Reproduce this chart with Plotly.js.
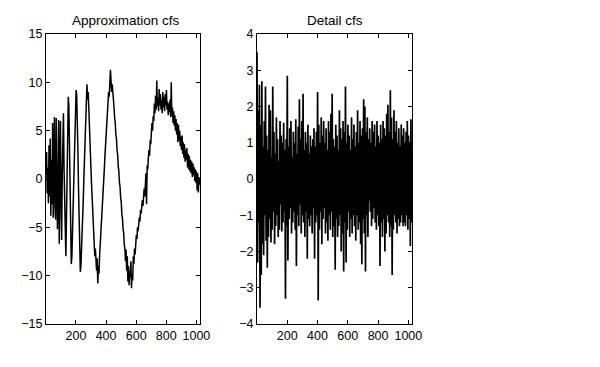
<!DOCTYPE html>
<html>
<head>
<meta charset="utf-8">
<script src="https://cdn.plot.ly/plotly-3.0.1.min.js"></script>
<style>html,body{margin:0;padding:0;background:#fff;}#plot{width:600px;height:367px;}</style>
</head>
<body>
<div id="plot"></div>
<script>
// Sample spacing (coefficient index step between stored values)
const STEP = 4;

// Approximation coefficients (one value every 4 indices)
const approxValues = [
  0.5, 2.8, -1.5, 1.2, -2.5, 3.5, -1.8, 4.2, -3.8, 2.0, -2.6, 5.8, -4.0, 3.2, 6.4, -3.0,
  -4.2, 6.3, 2.0, -5.2, -2.0, 6.1, -6.7, 1.5, 6.0, -2.5, -6.3, 0.5, 5.0, 6.8, 1.0, -4.0,
  -7.5, -8.0, -4.0, 1.5, 6.0, 8.5, 7.5, 3.0, -2.5, -6.5, -8.8, -8.0, -5.5, -2.0, 1.5, 4.5,
  7.0, 8.5, 9.2, 8.6, 6.5, 3.0, -1.0, -5.0, -8.0, -9.6, -9.0, -7.5, -6.0, -4.0, -2.0, 0.3,
  2.5, 4.8, 7.0, 8.5, 9.8, 8.2, 9.0, 7.5, 5.0, 3.5, 2.0, 0.5, -1.0, -2.5, -4.0, -5.5,
  -6.8, -8.0, -7.2, -8.8, -9.5, -8.2, -10.8, -9.0, -9.8, -8.0, -7.0, -5.8, -4.5, -3.8, -2.5, -1.0,
  0.0, 1.2, 2.5, 3.5, 4.8, 6.0, 7.0, 8.2, 9.0, 8.5, 10.0, 11.3, 10.2, 9.0, 9.8, 8.5,
  8.0, 7.4, 6.3, 5.8, 4.6, 4.2, 3.0, 2.5, 1.3, 0.8, -0.4, -0.8, -2.0, -2.4, -3.7, -4.1,
  -5.2, -5.6, -6.8, -7.2, -8.5, -7.3, -9.5, -8.0, -10.6, -9.0, -11.0, -9.5, -10.2, -8.5, -11.3, -9.8,
  -10.5, -8.0, -8.8, -7.2, -7.8, -6.8, -5.8, -6.2, -5.0, -5.4, -4.5, -4.0, -4.4, -3.2, -3.6, -2.6,
  -2.2, -2.8, -1.4, -1.0, -1.8, 0.0, 0.6, -2.6, 1.4, 1.0, 2.2, 3.0, 2.4, 4.0, 3.6, 4.8,
  5.8, 5.0, 6.5, 6.0, 7.8, 6.8, 8.6, 7.2, 10.2, 7.5, 8.4, 7.0, 9.3, 7.6, 8.8, 7.2,
  8.2, 6.8, 9.0, 7.4, 8.5, 7.0, 8.8, 7.6, 9.2, 7.2, 8.0, 6.6, 7.8, 6.9, 8.2, 6.4,
  10.0, 6.5, 7.4, 5.8, 7.0, 5.5, 6.6, 5.0, 6.2, 4.6, 5.8, 3.8, 5.6, 4.0, 5.0, 3.4,
  4.4, 3.0, 4.5, 2.6, 3.8, 2.2, 3.6, 1.8, 3.0, 2.0, 3.2, 1.2, 2.6, 1.0, 2.4, 0.8,
  2.0, 0.6, 1.8, 0.2, 1.6, 0.4, 1.2, -0.2, 1.0, -0.4, 0.8, -1.2, 0.6, -1.4, 0.2, -0.6
];

// Detail coefficients (one value every 4 indices)
const detailValues = [
  3.5, -2.3, 1.9, -1.2, 2.6, -3.55, 1.5, -2.65, 2.7, -1.8, 0.9, -2.1, 1.6, -1.0, 2.55, -1.7,
  1.2, -2.45, 0.8, -1.6, 2.05, -1.1, 1.9, -1.75, 0.6, -1.4, 2.55, -0.9, 1.3, -1.8, 0.7, -1.3,
  1.7, -1.0, 1.1, -1.6, 0.5, -1.4, 1.6, -0.7, 1.2, -1.45, 1.0, -1.2, 1.55, -0.9, 0.8, -3.3,
  1.1, -1.3, 2.85, -2.25, 0.9, -1.1, 1.4, -0.8, 1.6, -1.5, 0.6, -1.2, 1.3, -0.9, 1.0, -1.4,
  1.65, -2.4, 0.7, -1.0, 1.45, -1.3, 2.2, -0.7, 1.1, -1.5, 1.6, -1.0, 2.35, -1.2, 0.8, -1.6,
  1.3, -0.9, 1.0, -2.2, 1.5, -1.1, 0.7, -1.3, 1.2, -1.0, 0.9, -1.5, 1.1, -0.8, 1.4, -2.2,
  0.9, -1.2, 1.3, -1.0, 2.4, -3.35, 1.5, -1.4, 1.0, -0.9, 1.7, -1.8, 1.2, -1.1, 1.6, -0.8,
  1.0, -1.5, 1.4, -1.2, 0.8, -1.7, 1.6, -1.0, 1.3, -1.4, 1.8, -0.9, 2.35, -1.6, 1.1, -1.3,
  0.9, -2.5, 1.5, -1.1, 1.2, -1.6, 0.8, -1.3, 1.9, -1.0, 1.4, -2.0, 1.1, -1.5, 1.6, -2.55,
  1.3, -1.2, 2.55, -2.3, 1.0, -1.4, 1.5, -0.9, 1.2, -1.6, 0.8, -1.1, 1.7, -1.5, 1.1, -1.0,
  1.5, -1.3, 0.9, -1.7, 1.3, -1.0, 1.9, -1.4, 1.0, -1.2, 1.6, -1.8, 1.2, -2.35, 1.4, -1.1,
  2.2, -1.5, 2.0, -2.55, 1.3, -1.0, 1.7, -1.6, 1.1, -0.6, 1.4, -0.9, 1.0, -1.3, 1.6, -1.1,
  1.3, -0.8, 1.5, -1.2, 0.9, -1.4, 1.6, -1.0, 1.2, -1.3, 1.0, -2.4, 1.5, -1.2, 1.1, -1.6,
  1.6, -1.1, 1.4, -2.0, 1.2, -1.5, 1.8, -1.0, 2.05, -1.2, 1.3, -1.6, 2.45, -1.3, 1.7, -2.65,
  1.1, -1.4, 1.9, -1.0, 1.3, -1.2, 1.6, -1.5, 1.0, -1.1, 1.4, -1.3, 0.9, -1.2, 1.5, -1.0,
  1.2, -1.3, 1.4, -1.2, 1.0, -1.3, 1.3, -1.0, 1.6, -1.4, 1.2, -1.1, 1.0, -1.85, 1.65, -1.2
];

const xTickVals = [200, 400, 600, 800, 1000];
const approxYTicks = [-15, -10, -5, 0, 5, 10, 15];
const detailYTicks = [-4, -3, -2, -1, 0, 1, 2, 3, 4];
const titles = ["Approximation cfs", "Detail cfs"];

const approxX = approxValues.map((_, i) => 1 + i * STEP);
const detailX = detailValues.map((_, i) => 1 + i * STEP);

const font = {family: "Liberation Sans, Arial, Helvetica, sans-serif", size: 12.5, color: "#000"};

const axisCommon = {
  showgrid: false, zeroline: false, showline: true, linecolor: "#000", linewidth: 1,
  mirror: "ticks", ticks: "inside", ticklen: 4, tickcolor: "#000", tickwidth: 1,
  tickfont: font, fixedrange: true
};

const traces = [
  {x: approxX, y: approxValues, type: "scatter", mode: "lines",
   line: {color: "#000", width: 1.5}, xaxis: "x", yaxis: "y", hoverinfo: "skip"},
  {x: detailX, y: detailValues, type: "scatter", mode: "lines",
   line: {color: "#000", width: 1.7}, xaxis: "x2", yaxis: "y2", hoverinfo: "skip"}
];

const layout = {
  width: 600, height: 367,
  margin: {l: 0, r: 0, t: 0, b: 0},
  paper_bgcolor: "#fff", plot_bgcolor: "#fff",
  showlegend: false,
  font: font,
  xaxis: Object.assign({}, axisCommon, {domain: [46/600, 200/600], range: [1, 1024], tickvals: xTickVals, anchor: "y"}),
  yaxis: Object.assign({}, axisCommon, {domain: [1 - 324/367, 1 - 34/367], range: [-15, 15], tickvals: approxYTicks, anchor: "x"}),
  xaxis2: Object.assign({}, axisCommon, {domain: [257/600, 412/600], range: [1, 1024], tickvals: xTickVals, anchor: "y2"}),
  yaxis2: Object.assign({}, axisCommon, {domain: [1 - 324/367, 1 - 34/367], range: [-4, 4], tickvals: detailYTicks, anchor: "x2"}),
  annotations: [
    {text: titles[0], xref: "paper", yref: "paper", x: 126/600, y: 1 - 21/367, xanchor: "center", yanchor: "middle", showarrow: false, font: {family: font.family, size: 13.5, color: "#000"}},
    {text: titles[1], xref: "paper", yref: "paper", x: 335/600, y: 1 - 21/367, xanchor: "center", yanchor: "middle", showarrow: false, font: {family: font.family, size: 13.5, color: "#000"}}
  ]
};

Plotly.newPlot("plot", traces, layout, {displayModeBar: false, staticPlot: true});
</script>
</body>
</html>
